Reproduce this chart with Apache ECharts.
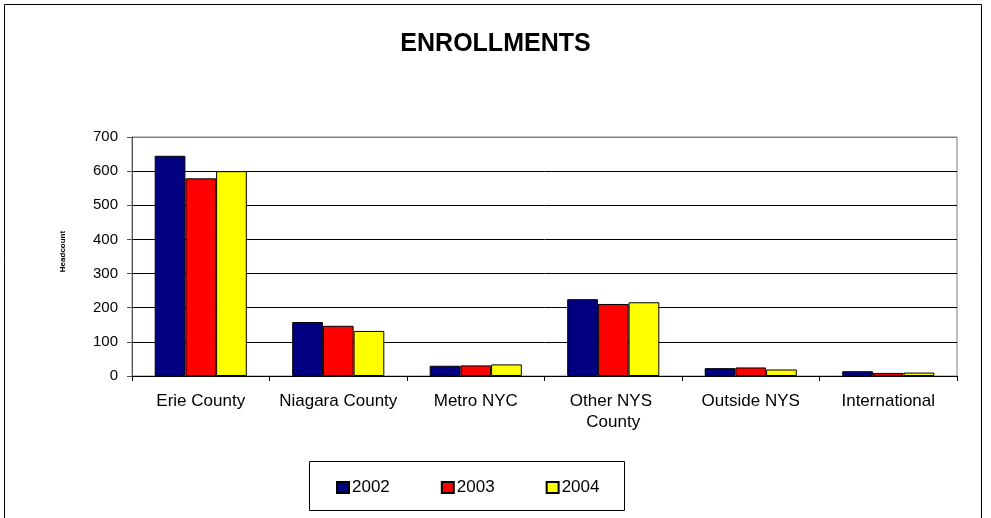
<!DOCTYPE html>
<html>
<head>
<meta charset="utf-8">
<script src="https://cdn.jsdelivr.net/npm/echarts@6/dist/echarts.min.js"></script>
<style>
html,body{margin:0;padding:0;background:#fff;}
#chart{width:991px;height:518px;}
</style>
</head>
<body>
<div id="chart"></div>
<script>
var categories = ['Erie County', 'Niagara County', 'Metro NYC', 'Other NYS County', 'Outside NYS', 'International'];
var years = ['2002', '2003', '2004'];
var values2002 = [645, 158, 30, 225, 23, 14];
var values2003 = [579, 147, 31, 211, 25, 9];
var values2004 = [600, 132, 34, 216, 19, 10];
var yTicks = [0, 100, 200, 300, 400, 500, 600, 700];

var colors = ['#000080', '#FF0000', '#FFFF00'];
var font = 'Arial, "Liberation Sans", sans-serif';
var chart = echarts.init(document.getElementById('chart'));
var seriesData = [values2002, values2003, values2004];

chart.setOption({
  animation: false,
  backgroundColor: '#fff',
  title: {
    text: 'ENROLLMENTS',
    left: 'center',
    top: 27,
    textStyle: {fontFamily: font, fontSize: 25, fontWeight: 'bold', color: '#000'}
  },
  graphic: [
    {type: 'rect', shape: {x: 4.5, y: 4.5, width: 977, height: 600}, style: {fill: 'none', stroke: '#000', lineWidth: 1}, z: 0},
    {type: 'rect', shape: {x: 309.5, y: 461.5, width: 315, height: 49}, style: {fill: 'none', stroke: '#000', lineWidth: 1}, z: 0}
  ],
  legend: {
    data: years,
    left: 331,
    top: 474,
    itemWidth: 12,
    itemHeight: 11,
    itemGap: 51,
    icon: 'rect',
    textStyle: {fontFamily: font, fontSize: 17, color: '#000', padding: [0, 0, 0, -2]}
  },
  grid: {
    left: 132, right: 34, top: 137, bottom: 142,
    show: true, borderColor: '#808080', borderWidth: 1
  },
  xAxis: {
    type: 'category',
    data: categories,
    axisLine: {lineStyle: {color: '#000'}},
    axisTick: {show: true, length: 5, lineStyle: {color: '#000'}},
    axisLabel: {
      fontFamily: font, fontSize: 17, color: '#000', margin: 15, lineHeight: 21,
      interval: 0, width: 130, overflow: 'break'
    }
  },
  yAxis: {
    type: 'value',
    min: yTicks[0],
    max: yTicks[yTicks.length - 1],
    interval: 100,
    name: 'Headcount',
    nameLocation: 'middle',
    nameRotate: 90,
    nameGap: 65,
    nameTextStyle: {fontFamily: font, fontSize: 8, fontWeight: 'bold', color: '#000', padding: [0, 0, 0, 10]},
    axisLine: {show: true, lineStyle: {color: '#555'}},
    axisTick: {show: true, length: 5, lineStyle: {color: '#555'}},
    axisLabel: {fontFamily: font, fontSize: 15, color: '#000', margin: 14},
    splitLine: {show: true, lineStyle: {color: ['#000', '#000', '#000', '#000', '#000', '#000', '#000', '#808080'], width: 1}}
  },
  series: years.map(function (y, i) {
    return {
      name: y,
      type: 'bar',
      data: seriesData[i],
      barGap: '0%',
      barCategoryGap: '33%',
      itemStyle: {color: colors[i], borderColor: '#000', borderWidth: 1}
    };
  })
});
</script>
</body>
</html>
